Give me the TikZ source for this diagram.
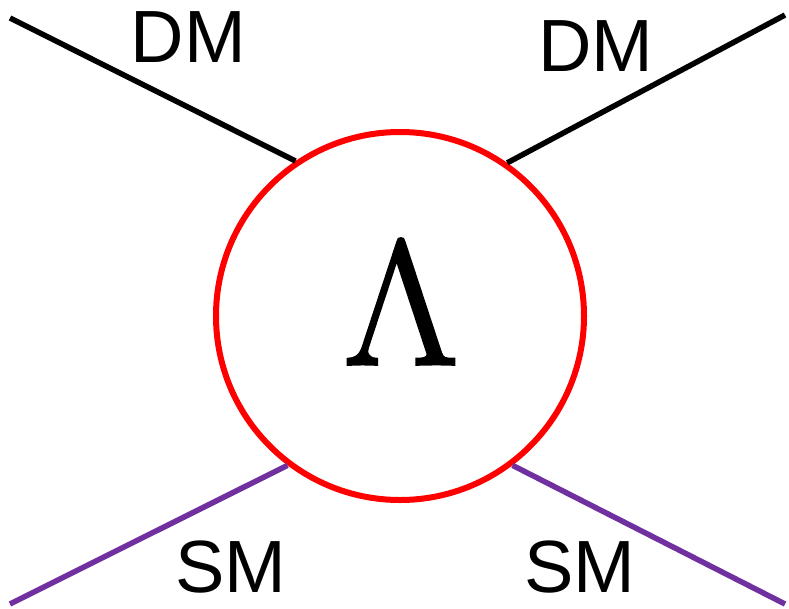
\documentclass[tikz,border=0pt]{standalone}
\usepackage{fontspec}
\setmainfont{Liberation Sans}
\newfontfamily\lmfont[FakeBold=2]{Latin Modern Roman}
\usetikzlibrary{positioning}
\definecolor{ringred}{RGB}{255,0,0}
\definecolor{smpurple}{RGB}{112,48,160}
\tikzset{
  leg/.style={line width=5.5pt,draw=#1},
  leg/.default=black,
  lbl/.style={font=\fontsize{74}{74}\selectfont,inner sep=0pt},
  vertex/.style={circle,draw=ringred,line width=6pt,minimum size=368pt,inner sep=0pt},
}
\begin{document}
\begin{tikzpicture}[x=1pt,y=-1pt]
  \useasboundingbox (0,0) rectangle (789,608);
  % effective vertex
  \node[vertex] (lam) at (400,316) {};
  \node[inner sep=0pt,font=\lmfont\fontsize{177}{177}\selectfont] (sym) at (401,301.5) {Λ};
  % outer ends of the legs
  \coordinate (dmL) at (10,18);
  \coordinate (dmR) at (785,15);
  \coordinate (smL) at (10,604);
  \coordinate (smR) at (785,604);
  \draw[leg] (dmL) -- (lam.124);
  \draw[leg] (dmR) -- (lam.55);
  \draw[leg=smpurple] (smL) -- (lam.233);
  \draw[leg=smpurple] (smR) -- (lam.307);
  % labels
  \node[lbl] (dmLt) at (188.5,37.5) {DM};
  \node[lbl] (dmRt) at (596,46) {DM};
  \node[lbl] (smLt) at (231,567) {SM};
  \node[lbl] (smRt) at (580,567) {SM};
\end{tikzpicture}
\end{document}
